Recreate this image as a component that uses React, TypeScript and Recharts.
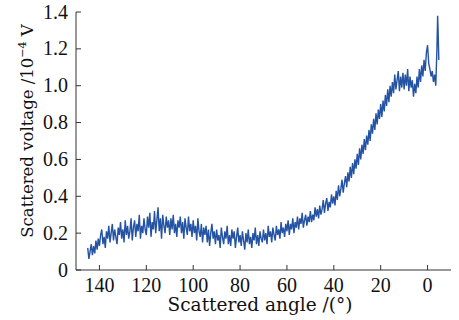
import React from "react";
import { LineChart, Line, XAxis, YAxis } from "recharts";

const angles = [
  145,144.5,144,143.5,143,142.5,142,141.5,141,140.5,
  140,139.5,139,138.5,138,137.5,137,136.5,136,135.5,
  135,134.5,134,133.5,133,132.5,132,131.5,131,130.5,
  130,129.5,129,128.5,128,127.5,127,126.5,126,125.5,
  125,124.5,124,123.5,123,122.5,122,121.5,121,120.5,
  120,119.5,119,118.5,118,117.5,117,116.5,116,115.5,
  115,114.5,114,113.5,113,112.5,112,111.5,111,110.5,
  110,109.5,109,108.5,108,107.5,107,106.5,106,105.5,
  105,104.5,104,103.5,103,102.5,102,101.5,101,100.5,
  100,99.5,99,98.5,98,97.5,97,96.5,96,95.5,
  95,94.5,94,93.5,93,92.5,92,91.5,91,90.5,
  90,89.5,89,88.5,88,87.5,87,86.5,86,85.5,
  85,84.5,84,83.5,83,82.5,82,81.5,81,80.5,
  80,79.5,79,78.5,78,77.5,77,76.5,76,75.5,
  75,74.5,74,73.5,73,72.5,72,71.5,71,70.5,
  70,69.5,69,68.5,68,67.5,67,66.5,66,65.5,
  65,64.5,64,63.5,63,62.5,62,61.5,61,60.5,
  60,59.5,59,58.5,58,57.5,57,56.5,56,55.5,
  55,54.5,54,53.5,53,52.5,52,51.5,51,50.5,
  50,49.5,49,48.5,48,47.5,47,46.5,46,45.5,
  45,44.5,44,43.5,43,42.5,42,41.5,41,40.5,
  40,39.5,39,38.5,38,37.5,37,36.5,36,35.5,
  35,34.5,34,33.5,33,32.5,32,31.5,31,30.5,
  30,29.5,29,28.5,28,27.5,27,26.5,26,25.5,
  25,24.5,24,23.5,23,22.5,22,21.5,21,20.5,
  20,19.5,19,18.5,18,17.5,17,16.5,16,15.5,
  15,14.5,14,13.5,13,12.5,12,11.5,11,10.5,
  10,9.5,9,8.5,8,7.5,7,6.5,6,5.5,
  5,4.5,4,3.5,3,2.5,2,1.5,1,0.5,
  0,-0.5,-1,-1.5,-2,-2.5,-3,-3.5,-4,-4.3,-4.5,-4.8,
];

const voltage = [
  0.12,0.06,0.10,0.14,0.08,0.13,0.09,0.16,0.11,0.17,
  0.13,0.19,0.22,0.14,0.18,0.12,0.21,0.17,0.24,0.15,
  0.20,0.25,0.16,0.22,0.18,0.14,0.23,0.19,0.26,0.17,
  0.22,0.15,0.27,0.19,0.24,0.17,0.21,0.28,0.16,0.23,
  0.27,0.18,0.25,0.21,0.30,0.17,0.24,0.20,0.28,0.22,
  0.19,0.29,0.23,0.31,0.18,0.26,0.22,0.32,0.20,0.27,
  0.34,0.21,0.28,0.17,0.30,0.24,0.20,0.29,0.23,0.27,
  0.19,0.28,0.22,0.30,0.20,0.25,0.18,0.27,0.23,0.29,
  0.20,0.26,0.17,0.28,0.23,0.19,0.29,0.21,0.25,0.18,
  0.27,0.20,0.24,0.16,0.28,0.21,0.18,0.25,0.15,0.23,
  0.19,0.24,0.15,0.22,0.13,0.20,0.25,0.17,0.21,0.14,
  0.22,0.16,0.19,0.12,0.23,0.18,0.14,0.21,0.17,0.24,
  0.14,0.19,0.13,0.22,0.17,0.21,0.12,0.18,0.23,0.15,
  0.19,0.13,0.21,0.16,0.11,0.20,0.15,0.22,0.14,0.18,
  0.12,0.20,0.16,0.23,0.14,0.19,0.13,0.21,0.17,0.15,
  0.22,0.16,0.20,0.14,0.24,0.18,0.21,0.15,0.23,0.19,
  0.16,0.24,0.19,0.22,0.17,0.26,0.20,0.23,0.18,0.25,
  0.21,0.27,0.19,0.25,0.22,0.28,0.20,0.26,0.23,0.29,
  0.22,0.28,0.25,0.31,0.23,0.27,0.30,0.24,0.29,0.26,
  0.32,0.26,0.30,0.27,0.34,0.29,0.33,0.28,0.35,0.30,
  0.33,0.38,0.31,0.36,0.39,0.32,0.37,0.34,0.41,0.36,
  0.40,0.35,0.43,0.38,0.46,0.40,0.44,0.49,0.42,0.47,
  0.51,0.45,0.53,0.48,0.56,0.50,0.58,0.52,0.60,0.55,
  0.63,0.57,0.66,0.60,0.68,0.63,0.71,0.65,0.73,0.68,
  0.76,0.70,0.79,0.74,0.82,0.76,0.85,0.79,0.87,0.82,
  0.90,0.83,0.92,0.86,0.95,0.89,0.98,0.91,1.00,0.94,
  1.02,0.96,1.06,0.98,1.03,1.08,0.97,1.05,0.99,1.07,
  0.98,1.06,1.00,1.09,0.97,1.05,0.99,1.03,0.94,1.01,
  0.96,1.05,0.99,1.09,1.02,1.11,1.05,1.14,1.08,1.18,
  1.22,1.12,1.09,1.05,1.08,1.02,1.06,1.00,1.20,1.38,1.30,1.14,
];

const xTicks = [140, 120, 100, 80, 60, 40, 20, 0];
const yTicks = [0, 0.2, 0.4, 0.6, 0.8, 1.0, 1.2, 1.4];
const yTickLabels = ["0", "0.2", "0.4", "0.6", "0.8", "1.0", "1.2", "1.4"];

const data = angles.map((a, i) => ({ angle: a, v: voltage[i] }));

const LABEL_FONT = "'DejaVu Serif', serif";
const TICK_FONT = "'Liberation Serif', serif";
const AXIS_COLOR = "#333";
const LINE_COLOR = "#2553a3";

const XTick = (props: any) => {
  const { x, y, payload } = props;
  return (
    <g>
      <line x1={x} y1={y} x2={x} y2={y - 5} stroke={AXIS_COLOR} strokeWidth={1} />
      <text x={x} y={y + 22} textAnchor="middle" fontFamily={TICK_FONT} fontSize={20} fill="#111">
        {payload.value}
      </text>
    </g>
  );
};

const YTick = (props: any) => {
  const { x, y, payload } = props;
  const idx = yTicks.indexOf(payload.value);
  return (
    <g>
      <line x1={x} y1={y} x2={x + 5} y2={y} stroke={AXIS_COLOR} strokeWidth={1} />
      <text x={x - 8} y={y + 6.5} textAnchor="end" fontFamily={TICK_FONT} fontSize={20} fill="#111">
        {idx >= 0 ? yTickLabels[idx] : payload.value}
      </text>
    </g>
  );
};

export default function App() {
  return (
    <div style={{ position: "absolute", left: 0, top: 0, background: "#fff" }}>
      <LineChart width={459} height={320} data={data} margin={{ top: 12, right: 8, bottom: 0, left: 0 }}>
        <XAxis
          xAxisId="b"
          dataKey="angle"
          type="number"
          domain={[-10, 150]}
          reversed
          ticks={xTicks}
          height={50}
          tickSize={0}
          tickMargin={0}
          tickLine={false}
          tick={<XTick />}
          stroke={AXIS_COLOR}
          allowDataOverflow
          label={{
            content: () => (
              <text x={260} y={311} textAnchor="middle" fontFamily={LABEL_FONT} fontSize={18.5} fill="#111">
                Scattered angle /(°)
              </text>
            ),
          }}
        />
        <XAxis
          xAxisId="t"
          orientation="top"
          dataKey="angle"
          type="number"
          domain={[-10, 150]}
          reversed
          height={0}
          tick={false}
          tickLine={false}
          stroke={AXIS_COLOR}
        />
        <YAxis
          yAxisId="l"
          type="number"
          domain={[0, 1.4]}
          ticks={yTicks}
          width={76}
          tickSize={0}
          tickMargin={0}
          tickLine={false}
          tick={<YTick />}
          stroke={AXIS_COLOR}
          allowDataOverflow
          label={{
            content: () => (
              <text
                x={33}
                y={131}
                transform="rotate(-90 33 131)"
                textAnchor="middle"
                fontFamily={LABEL_FONT}
                fontSize={16.5}
                fill="#111"
              >
                Scattered voltage /10
                <tspan fontSize={11} dy={-7}>−4</tspan>
                <tspan dy={7}> V</tspan>
              </text>
            ),
          }}
        />
        <YAxis
          yAxisId="r"
          orientation="right"
          type="number"
          domain={[0, 1.4]}
          width={0}
          tick={false}
          tickLine={false}
          stroke={AXIS_COLOR}
        />
        <Line
          xAxisId="b"
          yAxisId="l"
          type="linear"
          dataKey="v"
          dot={false}
          stroke={LINE_COLOR}
          strokeWidth={1.4}
          isAnimationActive={false}
        />
      </LineChart>
    </div>
  );
}
